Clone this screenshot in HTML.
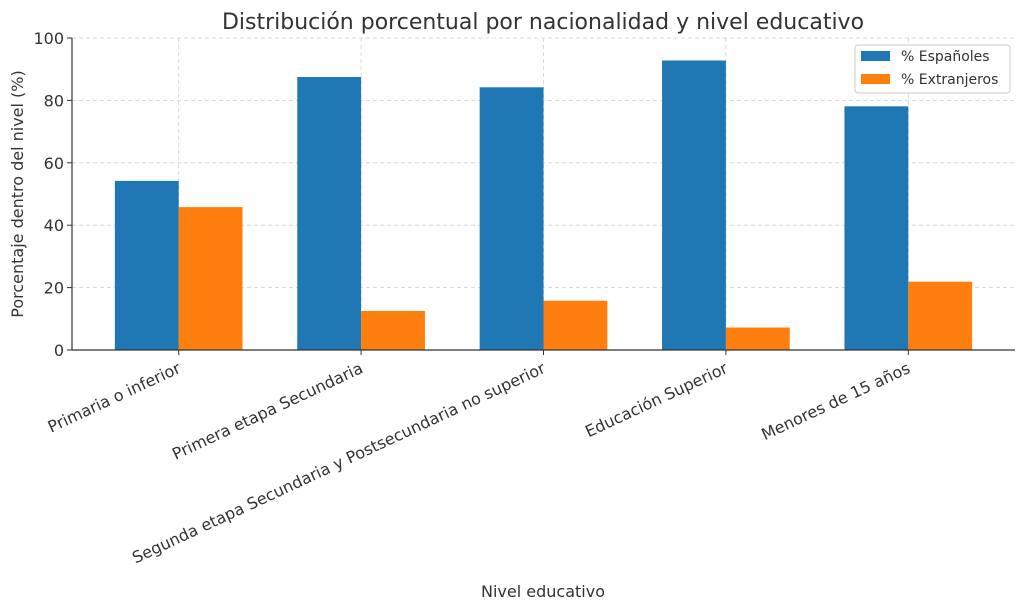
<!DOCTYPE html>
<html><head><meta charset="utf-8"><style>
body{margin:0;background:#fff}
svg{display:block;font-family:"DejaVu Sans","Liberation Sans",sans-serif}
</style></head><body>
<svg id="chart" width="1024" height="610" viewBox="0 0 1024 610">
<text x="543" y="29" font-size="22" text-anchor="middle" fill="#333">Distribución porcentual por nacionalidad y nivel educativo</text>
<g id="grid"></g>
<g id="bars"></g>
<g id="axes"></g>
<text x="543" y="597" font-size="16" text-anchor="middle" fill="#333">Nivel educativo</text>
<text transform="translate(23,194) rotate(-90)" font-size="16" text-anchor="middle" fill="#333">Porcentaje dentro del nivel (%)</text>
<g>
<rect x="855" y="45" width="155" height="48" rx="3" fill="#fff" fill-opacity="0.85" stroke="#ccc"/>
<rect x="861" y="51" width="29" height="10" fill="#1f77b4"/>
<text x="901" y="61" font-size="14" fill="#333">% Españoles</text>
<rect x="861" y="74" width="29" height="10" fill="#ff7f0e"/>
<text x="901" y="84" font-size="14" fill="#333">% Extranjeros</text>
</g>
</svg>
<script>
const categories=["Primaria o inferior","Primera etapa Secundaria","Segunda etapa Secundaria y Postsecundaria no superior","Educación Superior","Menores de 15 años"];
const espanoles=[54.2,87.5,84.2,92.8,78.1];
const extranjeros=[45.8,12.5,15.8,7.2,21.9];
const yTicks=[0,20,40,60,80,100];
const NS="http://www.w3.org/2000/svg";
const L=72,R=1015,T=38,B=350;
const step=(R-L)/(categories.length-1+1.17);
const x=i=>L+step*(0.585+i);
const y=v=>B-(v/100)*(B-T);
const bw=step*0.35;
function mk(tag,attrs,parent){const e=document.createElementNS(NS,tag);for(const k in attrs)e.setAttribute(k,attrs[k]);parent.appendChild(e);return e;}
const grid=document.getElementById('grid'),bars=document.getElementById('bars'),axes=document.getElementById('axes');
yTicks.forEach(t=>{
  const g=mk('line',{x1:L,x2:R,y1:y(t),y2:y(t),stroke:'#d0d0d0','stroke-dasharray':'4,3','stroke-width':0.8},grid);
  
  
  const tk=mk('line',{x1:L-5,x2:L,y1:y(t),y2:y(t),stroke:'#333'},axes);
  
  
  const tl=mk('text',{x:L-8,y:y(t)+6,'font-size':16,'text-anchor':'end',fill:'#333'},axes);
  tl.textContent=t;
  
  
});
categories.forEach((c,i)=>{
  const g=mk('line',{x1:x(i),x2:x(i),y1:T,y2:B,stroke:'#d0d0d0','stroke-dasharray':'4,3','stroke-width':0.8},grid);
  
  
  const b1=mk('rect',{x:x(i)-bw,y:y(espanoles[i]),width:bw,height:B-y(espanoles[i]),fill:'#1f77b4'},bars);
  
  
  const b2=mk('rect',{x:x(i),y:y(extranjeros[i]),width:bw,height:B-y(extranjeros[i]),fill:'#ff7f0e'},bars);
  
  
  const tk=mk('line',{x1:x(i),x2:x(i),y1:B,y2:B+5,stroke:'#333'},axes);
  
  
  const tl=mk('text',{transform:`translate(${x(i)+3},${B+22}) rotate(-25)`,'font-size':16,'text-anchor':'end',fill:'#333'},axes);
  tl.textContent=c;
  
  
});
const ax1=mk('line',{x1:L,x2:L,y1:T,y2:B,stroke:'#333','stroke-width':1.2},axes);


const ax2=mk('line',{x1:L,x2:R,y1:B,y2:B,stroke:'#333','stroke-width':1.2},axes);


</script>
</body></html>
